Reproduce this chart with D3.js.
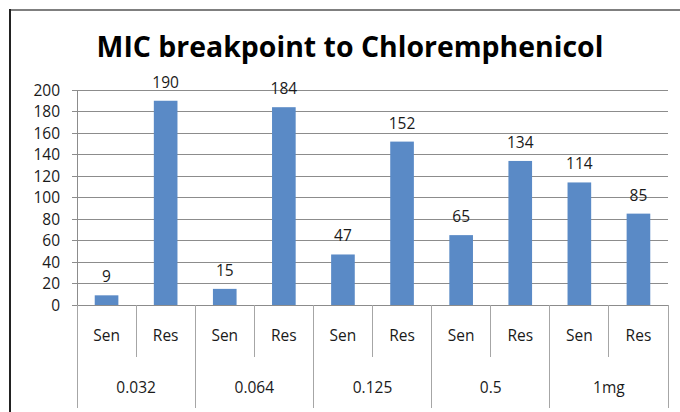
<!DOCTYPE html>
<html>
<head>
<meta charset="utf-8">
<script src="https://cdn.jsdelivr.net/npm/d3@7"></script>
<style>
  html, body { margin: 0; padding: 0; background: #fff; }
  svg text { font-family: "Open Sans", "Noto Sans", sans-serif; }
</style>
</head>
<body>
<div id="chart"></div>
<script>
// ── DATA ─────────────────────────────────────────────────────────────────────
const groups  = ['0.032', '0.064', '0.125', '0.5', '1mg'];
const subcats = ['Sen', 'Res'];
const senValues = [9, 15, 47, 65, 114];
const resValues = [190, 184, 152, 134, 85];
const yTicks = [0, 20, 40, 60, 80, 100, 120, 140, 160, 180, 200];

const rows = [];
groups.forEach((g, i) => {
  rows.push({ key: g + '|Sen', group: g, sub: 'Sen', value: senValues[i] });
  rows.push({ key: g + '|Res', group: g, sub: 'Res', value: resValues[i] });
});

// ── DIMENSIONS ───────────────────────────────────────────────────────────────
const W = 680, H = 412;
const plot = { left: 77, right: 668, top: 90, bottom: 305 };
const FONT = '15.5px';

const svg = d3.select('#chart').append('svg')
  .attr('width', W).attr('height', H);

// outer chart frame (runs off the bottom/right edges)
svg.append('rect')
  .attr('x', 10).attr('y', 10)
  .attr('width', 700).attr('height', 440)
  .attr('fill', 'none')
  .attr('stroke', '#7f7f7f')
  .attr('stroke-width', 2);
svg.append('line')
  .attr('x1', 10).attr('x2', 10).attr('y1', 9).attr('y2', H)
  .attr('stroke', '#222').attr('stroke-width', 2);

// ── SCALES ───────────────────────────────────────────────────────────────────
const x = d3.scaleBand()
  .domain(rows.map(d => d.key))
  .range([plot.left, plot.right])
  .paddingInner(0.6)
  .paddingOuter(0.3);

const y = d3.scaleLinear().domain([0, 200]).range([plot.bottom, plot.top]);

const step = (plot.right - plot.left) / rows.length;

// ── GRID + Y AXIS ────────────────────────────────────────────────────────────
svg.append('g')
  .selectAll('line')
  .data(yTicks)
  .join('line')
    .attr('x1', plot.left - 5).attr('x2', plot.right)
    .attr('y1', d => y(d)).attr('y2', d => y(d))
    .attr('stroke', '#8c8c8c').attr('stroke-width', 1)
    .attr('shape-rendering', 'crispEdges');

svg.append('line')
  .attr('x1', plot.left).attr('x2', plot.left)
  .attr('y1', plot.top).attr('y2', plot.bottom)
  .attr('stroke', '#8c8c8c').attr('shape-rendering', 'crispEdges');

svg.append('g')
  .selectAll('text')
  .data(yTicks)
  .join('text')
    .attr('x', 60)
    .attr('y', d => y(d))
    .attr('dy', '0.36em')
    .attr('text-anchor', 'end')
    .attr('font-size', FONT)
    .attr('fill', '#1a1a1a')
    .text(d => d);

// ── BARS ─────────────────────────────────────────────────────────────────────
svg.append('g')
  .selectAll('rect')
  .data(rows)
  .join('rect')
    .attr('x', d => x(d.key))
    .attr('y', d => y(d.value))
    .attr('width', x.bandwidth())
    .attr('height', d => y(0) - y(d.value))
    .attr('fill', '#5a8ac6');

svg.append('g')
  .selectAll('text')
  .data(rows)
  .join('text')
    .attr('x', d => x(d.key) + x.bandwidth() / 2)
    .attr('y', d => y(d.value) - 13)
    .attr('text-anchor', 'middle')
    .attr('font-size', FONT)
    .attr('fill', '#1a1a1a')
    .text(d => d.value);

// ── X AXIS (two level) ───────────────────────────────────────────────────────
svg.append('line')
  .attr('x1', plot.left - 5).attr('x2', plot.right)
  .attr('y1', plot.bottom).attr('y2', plot.bottom)
  .attr('stroke', '#8c8c8c').attr('shape-rendering', 'crispEdges');

const bounds = d3.range(rows.length + 1).map(i => plot.left + i * step);
svg.append('g')
  .selectAll('line')
  .data(bounds)
  .join('line')
    .attr('x1', d => d).attr('x2', d => d)
    .attr('y1', plot.bottom)
    .attr('y2', (d, i) => i % 2 === 0 ? 408 : 357)
    .attr('stroke', '#a6a6a6')
    .attr('shape-rendering', 'crispEdges');

svg.append('g')
  .selectAll('text')
  .data(rows)
  .join('text')
    .attr('x', d => x(d.key) + x.bandwidth() / 2)
    .attr('y', 341)
    .attr('text-anchor', 'middle')
    .attr('font-size', FONT)
    .attr('fill', '#1a1a1a')
    .text(d => d.sub);

svg.append('g')
  .selectAll('text')
  .data(groups)
  .join('text')
    .attr('x', (d, i) => plot.left + (i * 2 + 1) * step)
    .attr('y', 393)
    .attr('text-anchor', 'middle')
    .attr('font-size', FONT)
    .attr('fill', '#1a1a1a')
    .text(d => d);

// ── TITLE ────────────────────────────────────────────────────────────────────
const title = svg.append('text')
  .attr('x', 350)
  .attr('y', 57)
  .attr('text-anchor', 'middle')
  .attr('font-size', '28px')
  .attr('font-weight', 'bold')
  .attr('fill', '#000')
  .text('MIC breakpoint to Chloremphenicol');
const tw = title.node().getComputedTextLength();
title.attr('font-size', (28 * 507 / tw).toFixed(2) + 'px');
</script>
</body>
</html>
